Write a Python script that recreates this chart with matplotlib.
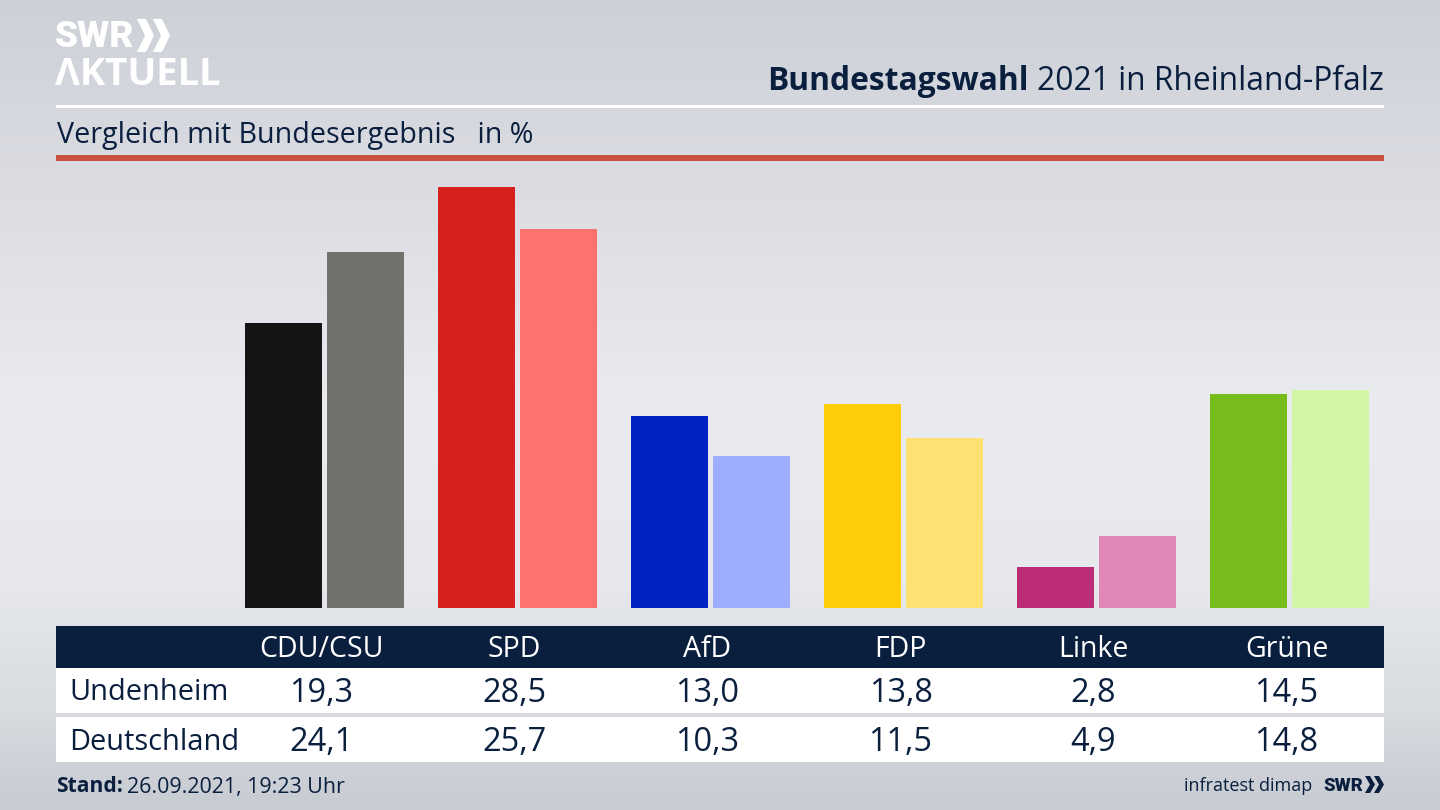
import numpy as np
import matplotlib
matplotlib.use("Agg")
import matplotlib.pyplot as plt
from matplotlib.patches import Rectangle, Polygon
from matplotlib.colors import LinearSegmentedColormap

parties = ["CDU/CSU", "SPD", "AfD", "FDP", "Linke", "Grüne"]
undenheim = [19.3, 28.5, 13.0, 13.8, 2.8, 14.5]
deutschland = [24.1, 25.7, 10.3, 11.5, 4.9, 14.8]
colors_local = ["#141414", "#d8201f", "#0222c4", "#ffcc0a", "#bb2e77", "#78bc1c"]
colors_national = ["#72716e", "#ff716d", "#9fadff", "#ffe072", "#e087b6", "#d3f6a6"]
row_labels = ["Undenheim", "Deutschland"]

NAVY = "#0a1f3e"
FONT = "Open Sans"
plt.rcParams["font.family"] = [FONT, "DejaVu Sans"]
W, H = 1440, 810
fig = plt.figure(figsize=(W / 100, H / 100), dpi=100)

# background gradient
bg = fig.add_axes([0, 0, 1, 1], zorder=0)
bg.axis("off")
cmap = LinearSegmentedColormap.from_list(
    "bg", [(0, "#cdd0d7"), (0.2, "#d9dbe1"), (0.5, "#e9ebef"), (0.72, "#e6e8ec"), (0.88, "#d8dbe0"), (1, "#c7cbd2")])
bg.imshow(np.linspace(0, 1, 256).reshape(-1, 1), aspect="auto", cmap=cmap, extent=[0, 1, 0, 1], origin="upper")

# bars
scale = 14.76
base_px, top_val = 608, 30
x0_px, group_px = 228, 193
ax = fig.add_axes([x0_px / W, 1 - base_px / H, group_px * 6 / W, top_val * scale / H], zorder=1)
ax.patch.set_alpha(0)
ax.axis("off")
ax.set_xlim(-0.5, 5.5)
ax.set_ylim(0, top_val)
x = np.arange(len(parties))
ax.bar(x - 0.2125, undenheim, width=0.398, color=colors_local)
ax.bar(x + 0.2125, deutschland, width=0.398, color=colors_national)

# overlay in pixel coordinates
ov = fig.add_axes([0, 0, 1, 1], zorder=2)
ov.patch.set_alpha(0)
ov.axis("off")
ov.set_xlim(0, W)
ov.set_ylim(H, 0)

def px(size):
    return size * 72 / 100

def chevron(xs, y0, y1, top, tip, color):
    ym = (y0 + y1) / 2
    ov.add_patch(Polygon([(xs, y0), (xs + top, y0), (xs + tip, ym), (xs + top, y1), (xs, y1), (xs + tip - top, ym)],
                         color=color, lw=0))

# rules
ov.add_patch(Rectangle((56, 104.5), 1328, 3, color="white", lw=0))
ov.add_patch(Rectangle((56, 155), 1328, 5.5, color="#cb4f3e", lw=0))

# logo
ov.text(55, 37, "SWR", color="white", fontsize=px(37), fontweight=900, family="Roboto", va="center", ha="left")
for xs in (137, 153):
    chevron(xs, 19, 52, 9, 17, "white")
ov.text(55, 75, "ΛKTUELL", color="white", fontsize=px(38.3), fontweight="bold", family="Open Sans", va="center", ha="left")

# titles
t2 = ov.text(1384, 81, "2021 in Rheinland-Pfalz", color=NAVY, fontsize=px(31.8), ha="right", va="center")
fig.canvas.draw()
bb = t2.get_window_extent()
ov.text(bb.x0 - 9, 81, "Bundestagswahl", color=NAVY, fontsize=px(31.8), fontweight="bold", ha="right", va="center")
ov.text(57, 135, "Vergleich mit Bundesergebnis   in %", color=NAVY, fontsize=px(28.6), ha="left", va="center")

# table
ov.add_patch(Rectangle((56, 626), 1328, 42, color=NAVY, lw=0))
ov.add_patch(Rectangle((56, 668), 1328, 45, color="white", lw=0))
ov.add_patch(Rectangle((56, 717), 1328, 45, color="white", lw=0))
for i, p in enumerate(parties):
    cx = x0_px + group_px * (i + 0.5)
    ov.text(cx - 3, 649.5, p, color="white", fontsize=px(28.5), ha="center", va="center")
    ov.text(cx - 3, 694, f"{undenheim[i]:.1f}".replace(".", ","), color=NAVY, fontsize=px(32.5), ha="center", va="center")
    ov.text(cx - 3, 742.5, f"{deutschland[i]:.1f}".replace(".", ","), color=NAVY, fontsize=px(32.5), ha="center", va="center")
ov.text(69.5, 693, row_labels[0], color=NAVY, fontsize=px(29), ha="left", va="center")
ov.text(69.5, 742, row_labels[1], color=NAVY, fontsize=px(29), ha="left", va="center")

# footer
s = ov.text(56, 787, "Stand:", color=NAVY, fontsize=px(21), fontweight="bold", ha="left", va="center")
fig.canvas.draw()
ov.text(s.get_window_extent().x1 + 4, 787, "26.09.2021, 19:23 Uhr", color=NAVY, fontsize=px(21.4), ha="left", va="center")
ov.text(1312, 786, "infratest dimap", color=NAVY, fontsize=px(18), ha="right", va="center")
ov.text(1323, 786, "SWR", color=NAVY, fontsize=px(18.5), fontweight=900, family="Roboto", ha="left", va="center")
for xs in (1365, 1374):
    chevron(xs, 776, 793, 5, 10, NAVY)

fig.savefig("out.png", dpi=100)
